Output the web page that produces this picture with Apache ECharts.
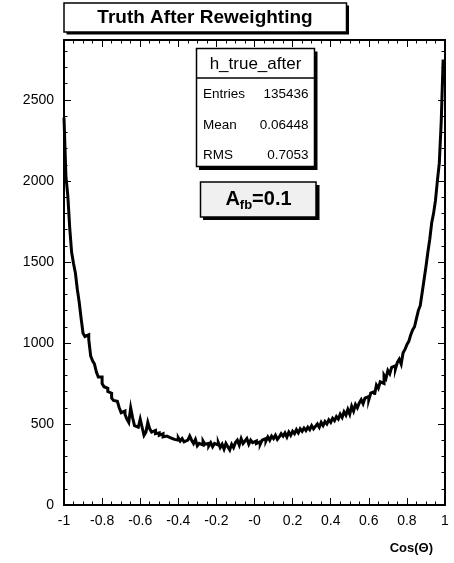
<!DOCTYPE html>
<html>
<head>
<meta charset="utf-8">
<script src="https://cdn.jsdelivr.net/npm/echarts@6/dist/echarts.min.js"></script>
<style>
  html, body { margin: 0; padding: 0; background: #ffffff; }
  #chart { width: 454px; height: 563px; }
</style>
</head>
<body>
<div id="chart"></div>
<script>
// Histogram h_true_after: 200 bins of cos(theta) on [-1, 1]
const xMin = -1;
const xMax = 1;
const binCounts = [
  2390, 2030, 1910, 1710, 1560, 1490, 1430, 1330, 1250, 1150,
  1060, 1040, 1050, 1020, 920, 890, 870, 820, 790, 790,
  750, 730, 720, 700, 690, 660, 645, 640, 630, 600,
  570, 580, 560, 530, 510, 600, 540, 490, 480, 470,
  530, 480, 430, 450, 510, 470, 450, 460, 440, 445,
  430, 440, 420, 425, 430, 415, 420, 405, 410, 400,
  415, 395, 410, 390, 400, 395, 425, 400, 380, 405,
  365, 380, 370, 395, 375, 380, 365, 385, 360, 380,
  370, 385, 355, 375, 345, 380, 360, 340, 375, 355,
  385, 400, 370, 410, 380, 395, 410, 375, 400, 385,
  395, 380, 390, 375, 400, 410, 395, 420, 400, 425,
  410, 430, 405, 420, 440, 425, 445, 420, 450, 430,
  455, 440, 465, 445, 470, 455, 475, 460, 480, 465,
  490, 470, 485, 500, 480, 510, 490, 515, 500, 525,
  510, 535, 520, 545, 530, 560, 540, 575, 555, 590,
  560, 610, 580, 620, 600, 630, 650, 625, 660, 670,
  650, 690, 700, 680, 740, 720, 760, 750, 800, 780,
  830, 810, 850, 860, 840, 880, 900, 870, 940, 960,
  990, 1010, 1050, 1080, 1100, 1150, 1200, 1230, 1310, 1390,
  1470, 1560, 1640, 1740, 1800, 1880, 2000, 2110, 2360, 2740
];
const xTickLabels = ['-1', '-0.8', '-0.6', '-0.4', '-0.2', '-0', '0.2', '0.4', '0.6', '0.8', '1'];
const yTickLabels = ['0', '500', '1000', '1500', '2000', '2500'];
const yMax = 2870;
const titleText = 'Truth After Reweighting';
const histName = 'h_true_after';
const statLabels = ['Entries', 'Mean', 'RMS'];
const statValues = ['135436', '0.06448', '0.7053'];
const axisTitle = 'Cos(\u0398)';

const FONT = '"Liberation Sans", Arial, Helvetica, sans-serif';
const xStep = 0.2;
const yStep = 500;

// Step outline: one point per bin low edge, plus the closing upper edge
const binWidth = (xMax - xMin) / binCounts.length;
const outline = binCounts.map((c, i) => [xMin + i * binWidth, c]);
outline.push([xMax, binCounts[binCounts.length - 1]]);

const black = '#000000';
function xAxisDef(pos, labels) {
  return {
    type: 'value', position: pos, min: xMin, max: xMax, interval: xStep,
    axisLine: { show: true, onZero: false, lineStyle: { color: black, width: 2 } },
    axisTick: { show: true, inside: true, length: 7, lineStyle: { color: black, width: 1 } },
    minorTick: { show: true, splitNumber: 4, length: 3.5, lineStyle: { color: black, width: 1 } },
    splitLine: { show: false }, minorSplitLine: { show: false },
    axisLabel: {
      show: labels, color: black, fontSize: 14, fontFamily: FONT, margin: 9,
      formatter: v => xTickLabels[Math.round((v - xMin) / xStep)] || ''
    }
  };
}
function yAxisDef(pos, step, tickLen, labels) {
  return {
    type: 'value', position: pos, min: 0, max: yMax, interval: step,
    axisLine: { show: true, onZero: false, lineStyle: { color: black, width: 2 } },
    axisTick: { show: true, inside: true, length: tickLen, lineStyle: { color: black, width: 1 } },
    splitLine: { show: false },
    axisLabel: {
      show: labels, color: black, fontSize: 14, fontFamily: FONT, margin: 10,
      formatter: v => (v % yStep === 0 ? (yTickLabels[v / yStep] || '') : '')
    }
  };
}

const chart = echarts.init(document.getElementById('chart'), null, { renderer: 'canvas' });
chart.setOption({
  backgroundColor: '#ffffff',
  animation: false,
  grid: { left: 64, right: 9, top: 40, bottom: 58, containLabel: false },
  xAxis: [xAxisDef('bottom', true), xAxisDef('top', false)],
  yAxis: [
    yAxisDef('left', yStep, 7, true),
    yAxisDef('left', 100, 3.5, false),
    yAxisDef('right', yStep, 7, false),
    yAxisDef('right', 100, 3.5, false)
  ],
  series: [{
    name: histName,
    type: 'line',
    xAxisIndex: 0, yAxisIndex: 0,
    data: outline,
    step: 'end',
    showSymbol: false,
    symbol: 'none',
    clip: true,
    lineStyle: { color: black, width: 3, join: 'miter' }
  }],
  graphic: { elements: [
    // title box with drop shadow
    { type: 'rect', shape: { x: 66.5, y: 5.5, width: 282.5, height: 29 }, style: { fill: black }, z: 10 },
    { type: 'rect', shape: { x: 64, y: 3, width: 282.5, height: 29 }, style: { fill: '#ffffff', stroke: black, lineWidth: 1.5 }, z: 11 },
    { type: 'text', x: 205, y: 18, z: 12,
      style: { text: titleText, fontSize: 19, fontWeight: 'bold', fontFamily: FONT, fill: black, textAlign: 'center', textVerticalAlign: 'middle' } },

    // statistics box
    { type: 'rect', shape: { x: 199, y: 51.5, width: 118.5, height: 118.5 }, style: { fill: black }, z: 10 },
    { type: 'rect', shape: { x: 196.5, y: 48.5, width: 118, height: 118 }, style: { fill: '#ffffff', stroke: black, lineWidth: 1.5 }, z: 11 },
    { type: 'line', shape: { x1: 196.5, y1: 78, x2: 314.5, y2: 78 }, style: { stroke: black, lineWidth: 1.5 }, z: 12 },
    { type: 'text', x: 255.5, y: 64, z: 12,
      style: { text: histName, fontSize: 17, fontFamily: FONT, fill: black, textAlign: 'center', textVerticalAlign: 'middle' } },
    ...statLabels.map((t, i) => ({ type: 'text', x: 203, y: 94.5 + i * 30.5, z: 12,
      style: { text: t, fontSize: 13.5, fontFamily: FONT, fill: black, textAlign: 'left', textVerticalAlign: 'middle' } })),
    ...statValues.map((t, i) => ({ type: 'text', x: 308.5, y: 94.5 + i * 30.5, z: 12,
      style: { text: t, fontSize: 13.5, fontFamily: FONT, fill: black, textAlign: 'right', textVerticalAlign: 'middle' } })),

    // asymmetry label box
    { type: 'rect', shape: { x: 203, y: 185, width: 116.5, height: 35 }, style: { fill: black }, z: 10 },
    { type: 'rect', shape: { x: 200.5, y: 182, width: 115.5, height: 35 }, style: { fill: '#f0f0f0', stroke: black, lineWidth: 1.5 }, z: 11 },
    { type: 'text', x: 258.5, y: 199.5, z: 12,
      style: {
        text: '{a|A}{s|fb}{a|=0.1}', textAlign: 'center', textVerticalAlign: 'middle',
        rich: {
          a: { fontSize: 20, fontWeight: 'bold', fontFamily: FONT, fill: black, color: black, lineHeight: 24 },
          s: { fontSize: 13, fontWeight: 'bold', fontFamily: FONT, fill: black, color: black, lineHeight: 14, verticalAlign: 'bottom' }
        }
      } },

    // x axis title
    { type: 'text', x: 433, y: 548, z: 12,
      style: { text: axisTitle, fontSize: 13, fontWeight: 'bold', fontFamily: FONT, fill: black, textAlign: 'right', textVerticalAlign: 'middle' } }
  ] }
});
</script>
</body>
</html>
